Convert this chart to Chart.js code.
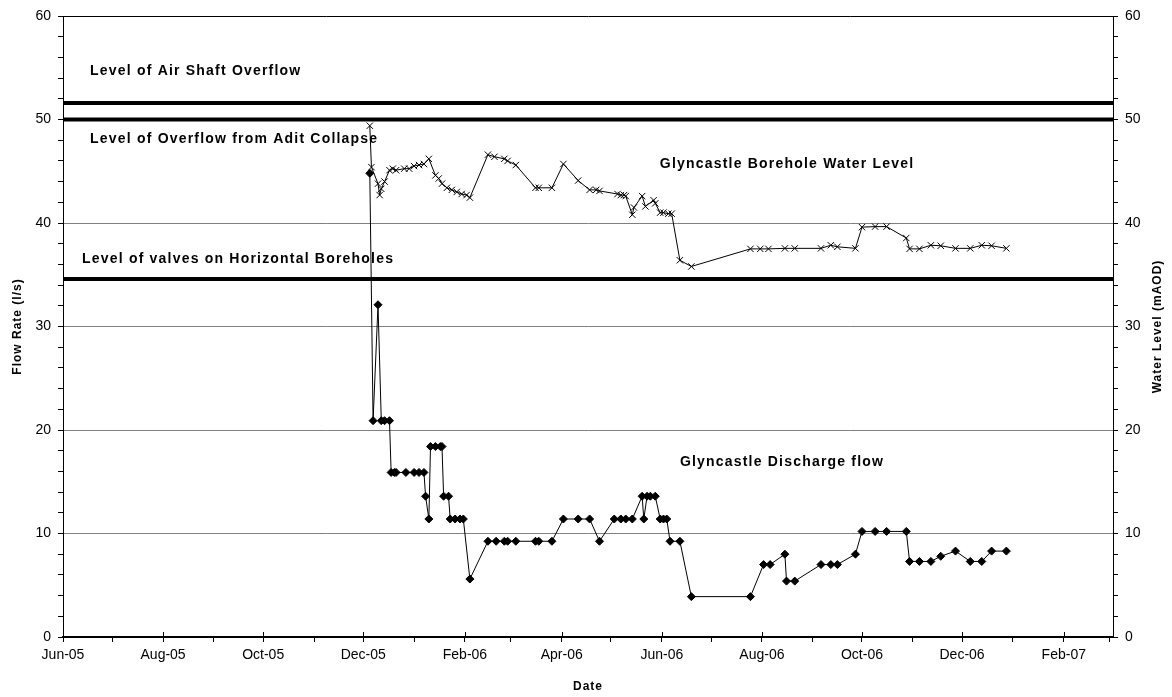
<!DOCTYPE html>
<html>
<head>
<meta charset="utf-8">
<script src="https://cdn.jsdelivr.net/npm/chart.js@4"></script>
<style>
  body { margin: 0; background: #fff; }
  canvas { display: block; }
</style>
</head>
<body>
<canvas id="glynChart" width="1172" height="697"></canvas>
<script>
const startDate = '2005-06-01';
const axisMaxDay = 640;
const xTickLabels = ['Jun-05', 'Aug-05', 'Oct-05', 'Dec-05', 'Feb-06', 'Apr-06', 'Jun-06', 'Aug-06', 'Oct-06', 'Dec-06', 'Feb-07'];

// Glyncastle discharge flow (l/s)
const flowDates = [
  '2005-12-05', '2005-12-07', '2005-12-10', '2005-12-12', '2005-12-14', '2005-12-17', '2005-12-18', '2005-12-20',
  '2005-12-21', '2005-12-27', '2006-01-01', '2006-01-04', '2006-01-07', '2006-01-08', '2006-01-10', '2006-01-11',
  '2006-01-14', '2006-01-17', '2006-01-18', '2006-01-19', '2006-01-22', '2006-01-23', '2006-01-26', '2006-01-29',
  '2006-01-31', '2006-02-04', '2006-02-15', '2006-02-20', '2006-02-25', '2006-02-27', '2006-03-04', '2006-03-16',
  '2006-03-18', '2006-03-26', '2006-04-02', '2006-04-11', '2006-04-18', '2006-04-24', '2006-05-03', '2006-05-07',
  '2006-05-10', '2006-05-14', '2006-05-20', '2006-05-21', '2006-05-23', '2006-05-25', '2006-05-28', '2006-05-31',
  '2006-06-02', '2006-06-04', '2006-06-06', '2006-06-12', '2006-06-19', '2006-07-25', '2006-08-02', '2006-08-06',
  '2006-08-15', '2006-08-16', '2006-08-21', '2006-09-06', '2006-09-12', '2006-09-16', '2006-09-27', '2006-10-01',
  '2006-10-09', '2006-10-16', '2006-10-28', '2006-10-30', '2006-11-05', '2006-11-12', '2006-11-18', '2006-11-27',
  '2006-12-06', '2006-12-13', '2006-12-19', '2006-12-28'
];
const flowValues = [
  44.8, 20.9, 32.1, 20.9, 20.9, 20.9, 15.9, 15.9,
  15.9, 15.9, 15.9, 15.9, 15.9, 13.6, 11.4, 18.4,
  18.4, 18.4, 18.4, 13.6, 13.6, 11.4, 11.4, 11.4,
  11.4, 5.6, 9.25, 9.25, 9.25, 9.25, 9.25, 9.25,
  9.25, 9.25, 11.4, 11.4, 11.4, 9.25, 11.4, 11.4,
  11.4, 11.4, 13.6, 11.4, 13.6, 13.6, 13.6, 11.4,
  11.4, 11.4, 9.25, 9.25, 3.9, 3.9, 7.0, 7.0,
  8.0, 5.4, 5.4, 7.0, 7.0, 7.0, 8.0, 10.2,
  10.2, 10.2, 10.2, 7.3, 7.3, 7.3, 7.8, 8.3,
  7.3, 7.3, 8.3, 8.3
];

// Glyncastle borehole water level (mAOD)
const levelDates = [
  '2005-12-05', '2005-12-06', '2005-12-10', '2005-12-11', '2005-12-12', '2005-12-14', '2005-12-17', '2005-12-19',
  '2005-12-21', '2005-12-26', '2005-12-29', '2006-01-01', '2006-01-04', '2006-01-07', '2006-01-10', '2006-01-14',
  '2006-01-16', '2006-01-18', '2006-01-21', '2006-01-24', '2006-01-27', '2006-01-30', '2006-02-02', '2006-02-04',
  '2006-02-15', '2006-02-19', '2006-02-25', '2006-02-27', '2006-03-04', '2006-03-16', '2006-03-18', '2006-03-26',
  '2006-04-02', '2006-04-11', '2006-04-18', '2006-04-22', '2006-04-24', '2006-05-05', '2006-05-07', '2006-05-09',
  '2006-05-10', '2006-05-14', '2006-05-15', '2006-05-20', '2006-05-22', '2006-05-27', '2006-05-28', '2006-05-31',
  '2006-06-02', '2006-06-05', '2006-06-07', '2006-06-12', '2006-06-19', '2006-07-25', '2006-07-31', '2006-08-05',
  '2006-08-15', '2006-08-21', '2006-09-06', '2006-09-12', '2006-09-16', '2006-09-27', '2006-10-01', '2006-10-09',
  '2006-10-16', '2006-10-28', '2006-10-30', '2006-11-05', '2006-11-12', '2006-11-18', '2006-11-27', '2006-12-06',
  '2006-12-13', '2006-12-19', '2006-12-28'
];
const levelValues = [
  49.4, 45.4, 43.8, 42.7, 43.3, 44.0, 45.1, 45.25,
  45.1, 45.25, 45.25, 45.5, 45.6, 45.7, 46.2, 44.6,
  44.3, 43.8, 43.4, 43.2, 43.0, 42.8, 42.7, 42.45,
  46.6, 46.4, 46.2, 46.0, 45.6, 43.4, 43.4, 43.4,
  45.7, 44.1, 43.2, 43.2, 43.1, 42.8, 42.7, 42.7,
  42.6, 40.8, 41.5, 42.6, 41.6, 42.2, 41.9, 41.0,
  41.0, 40.9, 40.9, 36.4, 35.8, 37.5, 37.5, 37.5,
  37.55, 37.55, 37.55, 37.85, 37.7, 37.55, 39.6, 39.65,
  39.65, 38.55, 37.5, 37.5, 37.85, 37.8, 37.55, 37.55,
  37.85, 37.8, 37.55
];

// reference levels (mAOD)
const refLevelNames = ['Level of Air Shaft Overflow', 'Level of Overflow from Adit Collapse', 'Level of valves on Horizontal Boreholes'];
const refLevelValues = [51.6, 50.0, 34.6];

function dayOf(s) {
  return (Date.parse(s) - Date.parse(startDate)) / 86400000;
}

// month starts from Jun-05 to Mar-07 for the date axis ticks
const monthTicks = [];
for (let m = 0; m <= 21; m++) {
  monthTicks.push((Date.UTC(2005, 5 + m, 1) - Date.parse(startDate)) / 86400000);
}

const FONT = '"Liberation Sans", Arial, sans-serif';

// text placed on the chart: [text, day, value]
const notes = [
  [refLevelNames[0], 16.5, 54.7],
  [refLevelNames[1], 16.5, 48.1],
  [refLevelNames[2], 11.6, 36.5],
  ['Glyncastle Borehole Water Level', 363.8, 45.7],
  ['Glyncastle Discharge flow', 376, 16.9]
];

const textPlugin = {
  id: 'textPlugin',
  afterDraw(chart) {
    const ctx = chart.ctx;
    const xs = chart.scales.x, ys = chart.scales.y;
    const area = chart.chartArea;
    ctx.save();

    // major date ticks cross the axis line
    ctx.strokeStyle = '#000';
    ctx.lineWidth = 1;
    xs.ticks.forEach((t, i) => {
      if (i % 2 !== 0) return;
      const px = Math.round(xs.getPixelForValue(t.value)) + 0.5;
      ctx.beginPath();
      ctx.moveTo(px, area.bottom - 5);
      ctx.lineTo(px, area.bottom);
      ctx.stroke();
    });

    ctx.fillStyle = '#000';
    ctx.letterSpacing = '1.2px';
    ctx.font = 'bold 14px ' + FONT;
    ctx.textAlign = 'left';
    ctx.textBaseline = 'middle';
    notes.forEach(n => {
      ctx.fillText(n[0], xs.getPixelForValue(n[1]), ys.getPixelForValue(n[2]));
    });

    // axis titles
    const midY = (area.top + area.bottom) / 2;
    ctx.font = 'bold 12px ' + FONT;
    ctx.letterSpacing = '1px';
    ctx.textAlign = 'center';
    ctx.fillText('Date', (area.left + area.right) / 2, 687);
    ctx.save();
    ctx.translate(18, midY);
    ctx.rotate(-Math.PI / 2);
    ctx.fillText('Flow Rate (l/s)', 0, 0);
    ctx.restore();
    ctx.save();
    ctx.translate(1158, midY);
    ctx.rotate(-Math.PI / 2);
    ctx.fillText('Water Level (mAOD)', 0, 0);
    ctx.restore();
    ctx.restore();
  }
};

const toPoints = (dates, values) => dates.map((d, i) => ({ x: dayOf(d), y: values[i] }));

const refDatasets = refLevelValues.map((v, i) => ({
  label: refLevelNames[i],
  data: [{ x: 0, y: v }, { x: axisMaxDay, y: v }],
  yAxisID: 'y2',
  showLine: true,
  borderColor: '#000',
  borderWidth: 4,
  pointRadius: 0
}));

const config = {
  type: 'scatter',
  data: {
    datasets: [
      ...refDatasets,
      {
        label: 'Glyncastle Borehole Water Level',
        data: toPoints(levelDates, levelValues),
        yAxisID: 'y2',
        showLine: true,
        borderColor: '#000',
        borderWidth: 1,
        pointStyle: 'crossRot',
        pointRadius: 4.5,
        pointBorderWidth: 1,
        pointBorderColor: '#000'
      },
      {
        label: 'Glyncastle Discharge flow',
        data: toPoints(flowDates, flowValues),
        yAxisID: 'y',
        showLine: true,
        borderColor: '#000',
        borderWidth: 1,
        pointStyle: 'rectRot',
        pointRadius: 4,
        pointBorderWidth: 1,
        pointBorderColor: '#000',
        pointBackgroundColor: '#000'
      }
    ]
  },
  options: {
    responsive: false,
    animation: false,
    devicePixelRatio: 1,
    layout: { padding: { top: 16, right: 0, bottom: 0, left: 0 } },
    plugins: { legend: { display: false }, tooltip: { enabled: false } },
    scales: {
      x: {
        type: 'linear',
        min: 0,
        max: axisMaxDay,
        afterBuildTicks(scale) {
          scale.ticks = monthTicks.filter(v => v <= axisMaxDay).map(v => ({ value: v }));
        },
        afterFit(scale) { scale.height = 60; },
        ticks: {
          autoSkip: false,
          maxRotation: 0,
          padding: 5,
          color: '#000',
          font: { family: FONT, size: 14 },
          callback: (v, i) => (i % 2 === 0 ? xTickLabels[i / 2] : '')
        },
        grid: { drawOnChartArea: false, tickLength: 5, tickColor: '#000' },
        border: { color: '#000', width: 2 }
      },
      y: {
        position: 'left',
        min: 0,
        max: 60,
        afterFit(scale) { scale.width = 63; },
        ticks: {
          stepSize: 2,
          autoSkip: false,
          padding: 7,
          color: '#000',
          font: { family: FONT, size: 14 },
          callback: v => (v % 10 === 0 ? v : '')
        },
        grid: {
          tickLength: 5,
          tickColor: '#000',
          color: ctx => {
            const v = ctx.tick ? ctx.tick.value : null;
            if (v === 60) return '#000';
            if (v % 10 === 0 && v > 0 && v < 50) return '#808080';
            return 'rgba(0,0,0,0)';
          }
        },
        border: { color: '#000', width: 1 }
      },
      y2: {
        position: 'right',
        min: 0,
        max: 60,
        afterFit(scale) { scale.width = 59; },
        ticks: {
          stepSize: 2,
          autoSkip: false,
          padding: 7,
          color: '#000',
          font: { family: FONT, size: 14 },
          callback: v => (v % 10 === 0 ? v : '')
        },
        grid: { drawOnChartArea: false, tickLength: 5, tickColor: '#000' },
        border: { color: '#000', width: 1 }
      }
    }
  },
  plugins: [textPlugin]
};

const glynChart = new Chart(document.getElementById('glynChart'), config);
</script>
</body>
</html>
